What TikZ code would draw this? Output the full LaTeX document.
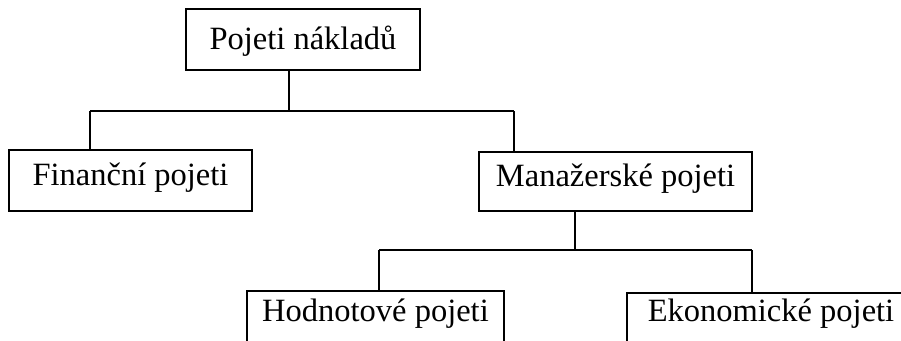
\documentclass[tikz,border=0pt]{standalone}
\usepackage{fontspec}
\setmainfont{Liberation Serif}
\begin{document}
\begin{tikzpicture}[x=1pt,y=-1pt,
  box/.style={draw=black,line width=1.4pt,inner sep=0pt,text height=21pt,
    font=\fontsize{32.5}{38}\selectfont},
  conn/.style={draw=black,line width=1.4pt}]
\useasboundingbox (0,0) rectangle (901,340);
\fill[white] (0,0) rectangle (901,340);
\node[box,minimum width=234pt,minimum height=61pt,text depth=2pt] (top) at (303,39.5) {Pojeti nákladů};
\node[box,minimum width=243pt,minimum height=61pt,text depth=11pt] (fin) at (130.5,180.5) {Finanční pojeti};
\node[box,minimum width=273pt,minimum height=59pt,text depth=11pt] (man) at (615.5,181.5) {Manažerské pojeti};
\node[box,minimum width=257pt,minimum height=60pt,text depth=20pt] (hod) at (375.5,321) {Hodnotové pojeti};
\node[box,minimum width=288pt,minimum height=60pt,text depth=24pt] (eko) at (771,323) {Ekonomické pojeti};
% first level
\coordinate (b1) at (289,111);
\coordinate (lf) at (90,111);
\coordinate (rt) at (514,111);
\draw[conn] (top.south -| b1) -- (b1);
\draw[conn] (lf) -- (rt);
\draw[conn] (lf) -- (lf |- fin.north);
\draw[conn] (rt) -- (rt |- man.north);
% second level
\coordinate (b2) at (575,250);
\coordinate (lf2) at (379,250);
\coordinate (rt2) at (752,250);
\draw[conn] (man.south -| b2) -- (b2);
\draw[conn] (lf2) -- (rt2);
\draw[conn] (lf2) -- (lf2 |- hod.north);
\draw[conn] (rt2) -- (rt2 |- eko.north);
\end{tikzpicture}
\end{document}
